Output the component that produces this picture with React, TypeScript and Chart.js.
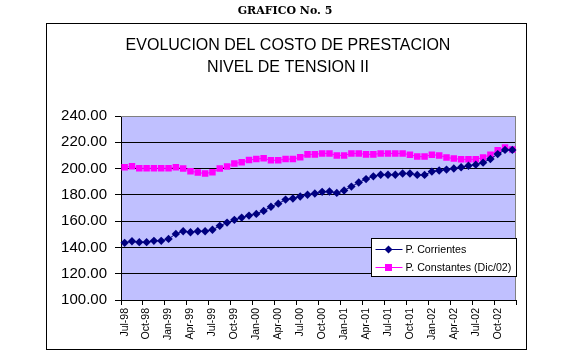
import React, { useEffect, useRef } from "react";
import { Chart, registerables } from "chart.js";

Chart.register(...registerables);

const HEADER = "GRAFICO No. 5";
const TITLE_LINES = ["EVOLUCION DEL COSTO DE PRESTACION", "NIVEL DE TENSION II"];

// Jul-98 .. Dec-02 (54 months)
const CATEGORIES: string[] = [
  "Jul-98", "Aug-98", "Sep-98", "Oct-98", "Nov-98", "Dec-98",
  "Jan-99", "Feb-99", "Mar-99", "Apr-99", "May-99", "Jun-99",
  "Jul-99", "Aug-99", "Sep-99", "Oct-99", "Nov-99", "Dec-99",
  "Jan-00", "Feb-00", "Mar-00", "Apr-00", "May-00", "Jun-00",
  "Jul-00", "Aug-00", "Sep-00", "Oct-00", "Nov-00", "Dec-00",
  "Jan-01", "Feb-01", "Mar-01", "Apr-01", "May-01", "Jun-01",
  "Jul-01", "Aug-01", "Sep-01", "Oct-01", "Nov-01", "Dec-01",
  "Jan-02", "Feb-02", "Mar-02", "Apr-02", "May-02", "Jun-02",
  "Jul-02", "Aug-02", "Sep-02", "Oct-02", "Nov-02", "Dec-02",
];

const SERIES_NAMES = ["P. Corrientes", "P. Constantes (Dic/02)"];

const CORRIENTES: number[] = [
  143.5, 144.7, 144.0, 144.0, 145.0, 145.0,
  146.5, 150.3, 152.3, 151.6, 152.3, 152.3,
  153.4, 156.4, 158.9, 161.0, 162.7, 164.2,
  165.5, 167.8, 171.0, 173.3, 176.4, 177.2,
  178.7, 180.1, 181.0, 182.3, 182.5, 181.5,
  183.3, 186.3, 189.4, 192.0, 194.1, 195.3,
  195.3, 195.3, 196.2, 196.2, 195.2, 195.2,
  197.7, 198.5, 199.2, 200.0, 201.0, 202.2,
  203.0, 204.5, 207.3, 211.0, 214.2, 214.2,
];

const CONSTANTES: number[] = [
  201.0, 201.8, 200.2, 200.2, 200.2, 200.2,
  200.2, 201.0, 200.0, 198.0, 197.0, 196.2,
  197.2, 200.0, 201.6, 203.9, 204.8, 206.5,
  207.2, 207.8, 206.3, 206.3, 207.2, 207.2,
  208.6, 210.8, 210.8, 211.5, 211.5, 210.0,
  210.0, 211.5, 211.5, 210.8, 210.8, 211.5,
  211.5, 211.5, 211.5, 210.6, 209.1, 209.1,
  210.6, 210.0, 208.5, 207.6, 207.0, 207.0,
  207.0, 208.5, 210.6, 213.9, 216.1, 214.6,
];

const Y_MIN = 100;
const Y_MAX = 240;
const Y_STEP = 20;
const LABEL_EVERY = 3;

const COLORS = ["#000080", "#FF00FF"];
const POINT_STYLES = ["rectRot", "rect"];

const framePlugin = {
  id: "frame",
  beforeDraw(chart: any) {
    const { ctx, chartArea } = chart;
    ctx.save();
    ctx.fillStyle = "#ffffff";
    ctx.fillRect(0, 0, chart.width, chart.height);
    ctx.fillStyle = "#000";
    ctx.textAlign = "center";
    ctx.textBaseline = "middle";
    ctx.font = 'bold 11px "DejaVu Serif"';
    ctx.fillText(HEADER, 285, 11);
    ctx.strokeStyle = "#000";
    ctx.lineWidth = 1;
    ctx.strokeRect(46.5, 23.5, 480, 326);
    ctx.font = '16px "Liberation Sans"';
    TITLE_LINES.forEach((t, i) => ctx.fillText(t, 288, 46 + i * 21.5));
    ctx.fillStyle = "#C0C0FF";
    ctx.fillRect(chartArea.left, chartArea.top, chartArea.right - chartArea.left, chartArea.bottom - chartArea.top);
    ctx.restore();
  },
  beforeDatasetsDraw(chart: any) {
    const { ctx, chartArea } = chart;
    ctx.save();
    ctx.strokeStyle = "#808080";
    ctx.lineWidth = 1;
    ctx.beginPath();
    ctx.moveTo(chartArea.left, chartArea.top + 0.5);
    ctx.lineTo(chartArea.right - 0.5, chartArea.top + 0.5);
    ctx.lineTo(chartArea.right - 0.5, chartArea.bottom);
    ctx.stroke();
    ctx.restore();
  },
  afterDraw(chart: any) {
    const { ctx, chartArea } = chart;
    const W = 145;
    const H = 38;
    const L = Math.round(chartArea.right - W) + 0.5;
    const T = Math.round(chartArea.top + 122) + 0.5;
    ctx.save();
    ctx.fillStyle = "#fff";
    ctx.fillRect(L, T, W, H);
    ctx.strokeStyle = "#000";
    ctx.lineWidth = 1;
    ctx.strokeRect(L, T, W, H);
    ctx.font = '10.67px "Liberation Sans"';
    ctx.textBaseline = "middle";
    ctx.textAlign = "left";
    SERIES_NAMES.forEach((name, i) => {
      const y = Math.round(T + 10 + i * 18.5) + 0.5;
      ctx.strokeStyle = COLORS[i];
      ctx.beginPath();
      ctx.moveTo(L + 4, y);
      ctx.lineTo(L + 31, y);
      ctx.stroke();
      ctx.fillStyle = COLORS[i];
      const cx = L + 17;
      if (i === 0) {
        ctx.beginPath();
        ctx.moveTo(cx, y - 4);
        ctx.lineTo(cx + 4, y);
        ctx.lineTo(cx, y + 4);
        ctx.lineTo(cx - 4, y);
        ctx.closePath();
        ctx.fill();
      } else {
        ctx.fillRect(cx - 3.5, y - 3.5, 7, 7);
      }
      ctx.fillStyle = "#000";
      ctx.fillText(name, L + 34, y + 0.5);
    });
    ctx.restore();
  },
};

export default function App() {
  const ref = useRef<HTMLCanvasElement | null>(null);
  useEffect(() => {
    if (!ref.current) return;
    const chart = new Chart(ref.current, {
      type: "line",
      data: {
        labels: CATEGORIES,
        datasets: [CORRIENTES, CONSTANTES].map((d, i) => ({
          label: SERIES_NAMES[i],
          data: d,
          borderColor: COLORS[i],
          backgroundColor: COLORS[i],
          borderWidth: 1,
          pointStyle: POINT_STYLES[i] as any,
          pointRadius: i === 0 ? 4.2 : 4.6,
          pointBorderWidth: 0,
          pointBackgroundColor: COLORS[i],
          tension: 0,
          fill: false,
        })),
      },
      options: {
        responsive: false,
        animation: false,
        devicePixelRatio: 1,
        layout: { padding: { left: 47, right: 60, top: 116, bottom: 7 } },
        plugins: {
          legend: { display: false },
          title: { display: false },
          tooltip: { enabled: false },
        },
        scales: {
          x: {
            type: "category",
            offset: true,
            afterFit(scale: any) {
              scale.height = 48;
            },
            border: { display: true, color: "#000", width: 1 },
            grid: {
              display: true,
              offset: true,
              drawOnChartArea: false,
              drawTicks: true,
              tickLength: 5,
              color: (c: any) => (c.type !== "tick" || c.index % LABEL_EVERY === 0 ? "#000" : "rgba(0,0,0,0)"),
            },
            ticks: {
              autoSkip: false,
              maxRotation: 90,
              minRotation: 90,
              padding: 3,
              color: "#000",
              font: { family: "Liberation Sans", size: 10.5 },
              callback: (_v: any, i: number) => (i % LABEL_EVERY === 0 ? CATEGORIES[i] : ""),
            },
          },
          y: {
            min: Y_MIN,
            max: Y_MAX,
            afterFit(scale: any) {
              scale.width = 74;
            },
            border: { display: true, color: "#000", width: 1 },
            grid: {
              color: (c: any) => (c.tick && c.tick.value === Y_MAX ? "#808080" : "#000"),
              tickColor: "#000",
              tickLength: 6,
              lineWidth: 1,
            },
            ticks: {
              stepSize: Y_STEP,
              padding: 8,
              color: "#000",
              font: { family: "Liberation Sans", size: 15 },
              callback: (v: any) => Number(v).toFixed(2),
            },
          },
        },
      },
      plugins: [framePlugin],
    });
    return () => chart.destroy();
  }, []);
  return (
    <div style={{ position: "fixed", left: 0, top: 0, width: 576, height: 355, background: "#fff" }}>
      <canvas ref={ref} width={576} height={355} style={{ display: "block" }} />
    </div>
  );
}
